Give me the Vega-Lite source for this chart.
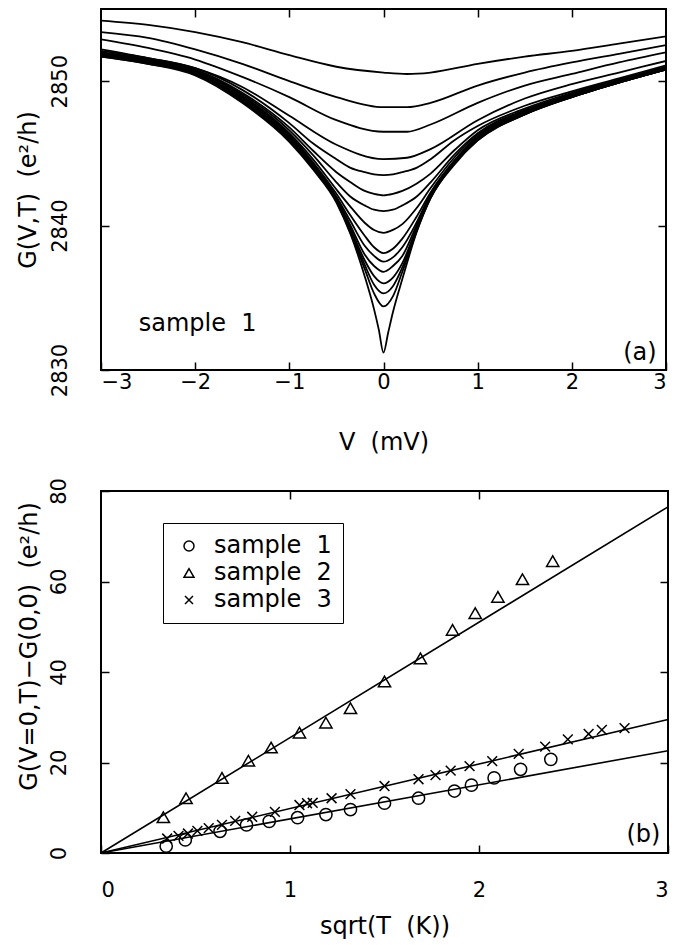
{
  "$schema": "https://vega.github.io/schema/vega-lite/v6.json",
  "padding": {"left": 15, "top": 7, "right": 10, "bottom": 5},
  "config": {
    "font": "DejaVu Sans",
    "view": {"stroke": "black", "strokeWidth": 2},
    "axis": {"domain": false, "grid": false, "tickColor": "black", "tickSize": -8, "tickWidth": 1.5, "labelColor": "black", "titleColor": "black", "labelFontSize": 21, "titleFontSize": 24, "labelFont": "DejaVu Sans", "titleFont": "DejaVu Sans", "titleFontWeight": "normal"},
    "concat": {"spacing": 21}
  },
  "datasets": {
    "curves": [
      {"c":1,"V":-3,"G":2854.2},{"c":1,"V":-2.5,"G":2853.9},{"c":1,"V":-2,"G":2853.4},{"c":1,"V":-1.5,"G":2852.7},{"c":1,"V":-1,"G":2851.8},{"c":1,"V":-0.5,"G":2851.0},{"c":1,"V":0,"G":2850.6},{"c":1,"V":0.25,"G":2850.5},{"c":1,"V":0.5,"G":2850.6},{"c":1,"V":1,"G":2851.2},{"c":1,"V":1.5,"G":2851.7},{"c":1,"V":2,"G":2852.1},{"c":1,"V":2.5,"G":2852.6},{"c":1,"V":3,"G":2853.1},
      {"c":2,"V":-3,"G":2853.4},{"c":2,"V":-2.5,"G":2853.0},{"c":2,"V":-2,"G":2852.2},{"c":2,"V":-1.5,"G":2851.2},{"c":2,"V":-1,"G":2850.0},{"c":2,"V":-0.5,"G":2848.9},{"c":2,"V":0,"G":2848.2},{"c":2,"V":0.25,"G":2848.2},{"c":2,"V":0.5,"G":2848.5},{"c":2,"V":1,"G":2849.7},{"c":2,"V":1.5,"G":2850.6},{"c":2,"V":2,"G":2851.3},{"c":2,"V":2.5,"G":2851.9},{"c":2,"V":3,"G":2852.5},
      {"c":3,"V":-3,"G":2852.9},{"c":3,"V":-2.5,"G":2852.3},{"c":3,"V":-2,"G":2851.5},{"c":3,"V":-1.5,"G":2850.3},{"c":3,"V":-1,"G":2848.9},{"c":3,"V":-0.5,"G":2847.3},{"c":3,"V":0,"G":2846.5},{"c":3,"V":0.25,"G":2846.5},{"c":3,"V":0.5,"G":2847.0},{"c":3,"V":1,"G":2848.5},{"c":3,"V":1.5,"G":2849.7},{"c":3,"V":2,"G":2850.5},{"c":3,"V":2.5,"G":2851.3},{"c":3,"V":3,"G":2852.0},
      {"c":4,"V":-3,"G":2852.2},{"c":4,"V":-2.5,"G":2851.6},{"c":4,"V":-2,"G":2850.9},{"c":4,"V":-1.5,"G":2849.6},{"c":4,"V":-1,"G":2847.6},{"c":4,"V":-0.5,"G":2845.6},{"c":4,"V":0,"G":2844.6},{"c":4,"V":0.25,"G":2844.7},{"c":4,"V":0.5,"G":2845.3},{"c":4,"V":1,"G":2847.3},{"c":4,"V":1.5,"G":2848.8},{"c":4,"V":2,"G":2849.8},{"c":4,"V":2.5,"G":2850.6},{"c":4,"V":3,"G":2851.4},
      {"c":5,"V":-3,"G":2852.1},{"c":5,"V":-2.5,"G":2851.6},{"c":5,"V":-2,"G":2850.9},{"c":5,"V":-1.5,"G":2849.4},{"c":5,"V":-1,"G":2847.1},{"c":5,"V":-0.75,"G":2845.7},{"c":5,"V":-0.5,"G":2844.6},{"c":5,"V":-0.35,"G":2844.0},{"c":5,"V":-0.2,"G":2843.7},{"c":5,"V":-0.1,"G":2843.55},{"c":5,"V":0,"G":2843.5},{"c":5,"V":0.1,"G":2843.55},{"c":5,"V":0.2,"G":2843.7},{"c":5,"V":0.35,"G":2844.0},{"c":5,"V":0.5,"G":2844.6},{"c":5,"V":0.75,"G":2845.9},{"c":5,"V":1,"G":2846.9},{"c":5,"V":1.5,"G":2848.3},{"c":5,"V":2,"G":2849.3},{"c":5,"V":2.5,"G":2850.2},{"c":5,"V":3,"G":2851.1},
      {"c":6,"V":-3,"G":2852.0},{"c":6,"V":-2.5,"G":2851.5},{"c":6,"V":-2,"G":2850.8},{"c":6,"V":-1.5,"G":2849.2},{"c":6,"V":-1,"G":2846.8},{"c":6,"V":-0.75,"G":2845.2},{"c":6,"V":-0.5,"G":2843.7},{"c":6,"V":-0.35,"G":2843.0},{"c":6,"V":-0.2,"G":2842.4},{"c":6,"V":-0.1,"G":2842.2},{"c":6,"V":0,"G":2842.1},{"c":6,"V":0.1,"G":2842.2},{"c":6,"V":0.2,"G":2842.4},{"c":6,"V":0.35,"G":2842.9},{"c":6,"V":0.5,"G":2843.6},{"c":6,"V":0.75,"G":2845.2},{"c":6,"V":1,"G":2846.6},{"c":6,"V":1.5,"G":2848.1},{"c":6,"V":2,"G":2849.2},{"c":6,"V":2.5,"G":2850.1},{"c":6,"V":3,"G":2851.0},
      {"c":7,"V":-3,"G":2852.0},{"c":7,"V":-2.5,"G":2851.5},{"c":7,"V":-2,"G":2850.7},{"c":7,"V":-1.5,"G":2849.1},{"c":7,"V":-1,"G":2846.6},{"c":7,"V":-0.75,"G":2844.9},{"c":7,"V":-0.5,"G":2843.0},{"c":7,"V":-0.35,"G":2842.0},{"c":7,"V":-0.2,"G":2841.4},{"c":7,"V":-0.1,"G":2841.1},{"c":7,"V":0,"G":2841.0},{"c":7,"V":0.1,"G":2841.1},{"c":7,"V":0.2,"G":2841.4},{"c":7,"V":0.35,"G":2842.0},{"c":7,"V":0.5,"G":2843.0},{"c":7,"V":0.75,"G":2844.9},{"c":7,"V":1,"G":2846.4},{"c":7,"V":1.5,"G":2848.0},{"c":7,"V":2,"G":2849.1},{"c":7,"V":2.5,"G":2850.1},{"c":7,"V":3,"G":2851.0},
      {"c":8,"V":-3,"G":2851.9},{"c":8,"V":-2.5,"G":2851.4},{"c":8,"V":-2,"G":2850.7},{"c":8,"V":-1.5,"G":2849.0},{"c":8,"V":-1,"G":2846.4},{"c":8,"V":-0.75,"G":2844.6},{"c":8,"V":-0.5,"G":2842.5},{"c":8,"V":-0.35,"G":2841.3},{"c":8,"V":-0.2,"G":2840.2},{"c":8,"V":-0.1,"G":2839.7},{"c":8,"V":0,"G":2839.5},{"c":8,"V":0.1,"G":2839.7},{"c":8,"V":0.2,"G":2840.1},{"c":8,"V":0.35,"G":2841.2},{"c":8,"V":0.5,"G":2842.6},{"c":8,"V":0.75,"G":2844.7},{"c":8,"V":1,"G":2846.3},{"c":8,"V":1.5,"G":2847.9},{"c":8,"V":2,"G":2849.1},{"c":8,"V":2.5,"G":2850.0},{"c":8,"V":3,"G":2850.9},
      {"c":9,"V":-3,"G":2851.9},{"c":9,"V":-2.5,"G":2851.4},{"c":9,"V":-2,"G":2850.6},{"c":9,"V":-1.5,"G":2848.9},{"c":9,"V":-1,"G":2846.3},{"c":9,"V":-0.75,"G":2844.4},{"c":9,"V":-0.5,"G":2842.2},{"c":9,"V":-0.35,"G":2840.7},{"c":9,"V":-0.2,"G":2839.3},{"c":9,"V":-0.1,"G":2838.5},{"c":9,"V":0,"G":2838.1},{"c":9,"V":0.1,"G":2838.4},{"c":9,"V":0.2,"G":2839.1},{"c":9,"V":0.35,"G":2840.6},{"c":9,"V":0.5,"G":2842.3},{"c":9,"V":0.75,"G":2844.5},{"c":9,"V":1,"G":2846.2},{"c":9,"V":1.5,"G":2847.9},{"c":9,"V":2,"G":2849.0},{"c":9,"V":2.5,"G":2850.0},{"c":9,"V":3,"G":2850.9},
      {"c":10,"V":-3,"G":2851.9},{"c":10,"V":-2.5,"G":2851.4},{"c":10,"V":-2,"G":2850.6},{"c":10,"V":-1.5,"G":2848.8},{"c":10,"V":-1,"G":2846.2},{"c":10,"V":-0.75,"G":2844.3},{"c":10,"V":-0.5,"G":2842.0},{"c":10,"V":-0.35,"G":2840.3},{"c":10,"V":-0.2,"G":2838.6},{"c":10,"V":-0.1,"G":2837.9},{"c":10,"V":0,"G":2837.5},{"c":10,"V":0.1,"G":2837.8},{"c":10,"V":0.2,"G":2838.5},{"c":10,"V":0.35,"G":2840.2},{"c":10,"V":0.5,"G":2842.2},{"c":10,"V":0.75,"G":2844.4},{"c":10,"V":1,"G":2846.1},{"c":10,"V":1.5,"G":2847.8},{"c":10,"V":2,"G":2849.0},{"c":10,"V":2.5,"G":2850.0},{"c":10,"V":3,"G":2850.9},
      {"c":11,"V":-3,"G":2851.8},{"c":11,"V":-2.5,"G":2851.3},{"c":11,"V":-2,"G":2850.6},{"c":11,"V":-1.5,"G":2848.8},{"c":11,"V":-1,"G":2846.1},{"c":11,"V":-0.75,"G":2844.2},{"c":11,"V":-0.5,"G":2841.9},{"c":11,"V":-0.35,"G":2840.0},{"c":11,"V":-0.2,"G":2838.0},{"c":11,"V":-0.1,"G":2837.2},{"c":11,"V":0,"G":2836.8},{"c":11,"V":0.1,"G":2837.2},{"c":11,"V":0.2,"G":2837.9},{"c":11,"V":0.35,"G":2840.0},{"c":11,"V":0.5,"G":2842.1},{"c":11,"V":0.75,"G":2844.4},{"c":11,"V":1,"G":2846.1},{"c":11,"V":1.5,"G":2847.8},{"c":11,"V":2,"G":2849.0},{"c":11,"V":2.5,"G":2850.0},{"c":11,"V":3,"G":2850.9},
      {"c":12,"V":-3,"G":2851.8},{"c":12,"V":-2.5,"G":2851.3},{"c":12,"V":-2,"G":2850.5},{"c":12,"V":-1.5,"G":2848.7},{"c":12,"V":-1,"G":2846.0},{"c":12,"V":-0.75,"G":2844.1},{"c":12,"V":-0.5,"G":2841.8},{"c":12,"V":-0.35,"G":2839.8},{"c":12,"V":-0.2,"G":2837.6},{"c":12,"V":-0.1,"G":2836.5},{"c":12,"V":0,"G":2836.0},{"c":12,"V":0.1,"G":2836.4},{"c":12,"V":0.2,"G":2837.4},{"c":12,"V":0.35,"G":2839.8},{"c":12,"V":0.5,"G":2842.0},{"c":12,"V":0.75,"G":2844.3},{"c":12,"V":1,"G":2846.0},{"c":12,"V":1.5,"G":2847.8},{"c":12,"V":2,"G":2848.9},{"c":12,"V":2.5,"G":2849.9},{"c":12,"V":3,"G":2850.8},
      {"c":13,"V":-3,"G":2851.8},{"c":13,"V":-2.5,"G":2851.3},{"c":13,"V":-2,"G":2850.5},{"c":13,"V":-1.5,"G":2848.7},{"c":13,"V":-1,"G":2846.0},{"c":13,"V":-0.75,"G":2844.1},{"c":13,"V":-0.5,"G":2841.7},{"c":13,"V":-0.35,"G":2839.6},{"c":13,"V":-0.2,"G":2837.3},{"c":13,"V":-0.1,"G":2835.9},{"c":13,"V":0,"G":2835.3},{"c":13,"V":0.1,"G":2835.8},{"c":13,"V":0.2,"G":2837.1},{"c":13,"V":0.35,"G":2839.7},{"c":13,"V":0.5,"G":2842.0},{"c":13,"V":0.75,"G":2844.3},{"c":13,"V":1,"G":2846.0},{"c":13,"V":1.5,"G":2847.7},{"c":13,"V":2,"G":2848.9},{"c":13,"V":2.5,"G":2849.9},{"c":13,"V":3,"G":2850.8},
      {"c":14,"V":-3,"G":2851.7},{"c":14,"V":-2.5,"G":2851.2},{"c":14,"V":-2,"G":2850.5},{"c":14,"V":-1.5,"G":2848.6},{"c":14,"V":-1,"G":2845.9},{"c":14,"V":-0.75,"G":2844.0},{"c":14,"V":-0.5,"G":2841.7},{"c":14,"V":-0.35,"G":2839.5},{"c":14,"V":-0.2,"G":2837.0},{"c":14,"V":-0.1,"G":2835.3},{"c":14,"V":0,"G":2834.4},{"c":14,"V":0.1,"G":2835.1},{"c":14,"V":0.2,"G":2836.8},{"c":14,"V":0.35,"G":2839.6},{"c":14,"V":0.5,"G":2841.9},{"c":14,"V":0.75,"G":2844.3},{"c":14,"V":1,"G":2845.9},{"c":14,"V":1.5,"G":2847.7},{"c":14,"V":2,"G":2848.9},{"c":14,"V":2.5,"G":2849.9},{"c":14,"V":3,"G":2850.8},
      {"c":15,"V":-3,"G":2851.7},{"c":15,"V":-2.5,"G":2851.2},{"c":15,"V":-2,"G":2850.4},{"c":15,"V":-1.5,"G":2848.5},{"c":15,"V":-1,"G":2845.8},{"c":15,"V":-0.75,"G":2843.9},{"c":15,"V":-0.5,"G":2841.6},{"c":15,"V":-0.35,"G":2839.4},{"c":15,"V":-0.2,"G":2836.5},{"c":15,"V":-0.1,"G":2834.2},{"c":15,"V":-0.05,"G":2832.8},{"c":15,"V":0,"G":2831.2},{"c":15,"V":0.05,"G":2832.6},{"c":15,"V":0.1,"G":2834.0},{"c":15,"V":0.2,"G":2836.3},{"c":15,"V":0.35,"G":2839.5},{"c":15,"V":0.5,"G":2841.9},{"c":15,"V":0.75,"G":2844.2},{"c":15,"V":1,"G":2845.9},{"c":15,"V":1.5,"G":2847.7},{"c":15,"V":2,"G":2848.9},{"c":15,"V":2.5,"G":2849.9},{"c":15,"V":3,"G":2850.8}
    ],
    "annA1": [{"x": -2.6, "y": 2833.2, "t": "sample \u00a01"}],
    "annA2": [{"x": 2.9, "y": 2831.2, "t": "(a)"}],
    "annB": [{"x": 2.96, "y": 4.0, "t": "(b)"}],
    "fits": [
      {"sample": "sample \u00a01", "x": 0, "y": 0}, {"sample": "sample \u00a01", "x": 3, "y": 22.6},
      {"sample": "sample \u00a02", "x": 0, "y": 0}, {"sample": "sample \u00a02", "x": 3, "y": 76.5},
      {"sample": "sample \u00a03", "x": 0, "y": 0}, {"sample": "sample \u00a03", "x": 3, "y": 29.5}
    ],
    "points": [
      {"sample": "sample \u00a01", "x": 0.345, "y": 1.5}, {"sample": "sample \u00a01", "x": 0.446, "y": 2.9}, {"sample": "sample \u00a01", "x": 0.63, "y": 4.8}, {"sample": "sample \u00a01", "x": 0.77, "y": 6.2}, {"sample": "sample \u00a01", "x": 0.89, "y": 7.0}, {"sample": "sample \u00a01", "x": 1.04, "y": 7.8}, {"sample": "sample \u00a01", "x": 1.19, "y": 8.5}, {"sample": "sample \u00a01", "x": 1.32, "y": 9.6}, {"sample": "sample \u00a01", "x": 1.50, "y": 11.0}, {"sample": "sample \u00a01", "x": 1.68, "y": 12.1}, {"sample": "sample \u00a01", "x": 1.87, "y": 13.7}, {"sample": "sample \u00a01", "x": 1.96, "y": 15.0}, {"sample": "sample \u00a01", "x": 2.08, "y": 16.6}, {"sample": "sample \u00a01", "x": 2.22, "y": 18.5}, {"sample": "sample \u00a01", "x": 2.38, "y": 20.7},
      {"sample": "sample \u00a02", "x": 0.33, "y": 7.9}, {"sample": "sample \u00a02", "x": 0.45, "y": 12.1}, {"sample": "sample \u00a02", "x": 0.64, "y": 16.6}, {"sample": "sample \u00a02", "x": 0.78, "y": 20.4}, {"sample": "sample \u00a02", "x": 0.90, "y": 23.3}, {"sample": "sample \u00a02", "x": 1.05, "y": 26.6}, {"sample": "sample \u00a02", "x": 1.19, "y": 28.8}, {"sample": "sample \u00a02", "x": 1.32, "y": 32.0}, {"sample": "sample \u00a02", "x": 1.50, "y": 37.9}, {"sample": "sample \u00a02", "x": 1.69, "y": 43.0}, {"sample": "sample \u00a02", "x": 1.86, "y": 49.3}, {"sample": "sample \u00a02", "x": 1.98, "y": 53.0}, {"sample": "sample \u00a02", "x": 2.10, "y": 56.6}, {"sample": "sample \u00a02", "x": 2.23, "y": 60.5}, {"sample": "sample \u00a02", "x": 2.39, "y": 64.5},
      {"sample": "sample \u00a03", "x": 0.35, "y": 3.2}, {"sample": "sample \u00a03", "x": 0.41, "y": 3.8}, {"sample": "sample \u00a03", "x": 0.46, "y": 4.3}, {"sample": "sample \u00a03", "x": 0.51, "y": 4.9}, {"sample": "sample \u00a03", "x": 0.57, "y": 5.5}, {"sample": "sample \u00a03", "x": 0.64, "y": 6.2}, {"sample": "sample \u00a03", "x": 0.71, "y": 7.1}, {"sample": "sample \u00a03", "x": 0.80, "y": 8.0}, {"sample": "sample \u00a03", "x": 0.92, "y": 9.1}, {"sample": "sample \u00a03", "x": 1.05, "y": 10.6}, {"sample": "sample \u00a03", "x": 1.09, "y": 11.0}, {"sample": "sample \u00a03", "x": 1.12, "y": 11.1}, {"sample": "sample \u00a03", "x": 1.22, "y": 12.1}, {"sample": "sample \u00a03", "x": 1.32, "y": 13.0}, {"sample": "sample \u00a03", "x": 1.50, "y": 14.8}, {"sample": "sample \u00a03", "x": 1.68, "y": 16.3}, {"sample": "sample \u00a03", "x": 1.77, "y": 17.2}, {"sample": "sample \u00a03", "x": 1.85, "y": 18.2}, {"sample": "sample \u00a03", "x": 1.95, "y": 19.2}, {"sample": "sample \u00a03", "x": 2.07, "y": 20.3}, {"sample": "sample \u00a03", "x": 2.21, "y": 21.9}, {"sample": "sample \u00a03", "x": 2.35, "y": 23.5}, {"sample": "sample \u00a03", "x": 2.47, "y": 25.1}, {"sample": "sample \u00a03", "x": 2.58, "y": 26.3}, {"sample": "sample \u00a03", "x": 2.65, "y": 27.2}, {"sample": "sample \u00a03", "x": 2.77, "y": 27.6}
    ]
  },
  "vconcat": [
    {
      "width": 565,
      "height": 361,
      "layer": [
        {
          "data": {"name": "curves"},
          "mark": {"type": "line", "color": "black", "strokeWidth": 1.8, "interpolate": "monotone", "clip": true},
          "encoding": {
            "x": {"field": "V", "type": "quantitative", "scale": {"domain": [-3, 3], "nice": false, "zero": false},
              "axis": {"orient": "bottom", "values": [-3, -2, -1, 0, 1, 2, 3], "title": "V \u00a0(mV)", "labelPadding": 9, "titlePadding": 38}},
            "y": {"field": "G", "type": "quantitative", "scale": {"domain": [2830, 2855], "nice": false, "zero": false},
              "axis": {"orient": "left", "values": [2830, 2840, 2850], "format": "d", "title": "G(V,T) \u00a0(e\u00b2/h)", "titleX": -61, "labelAngle": -90, "labelAlign": "center", "labelBaseline": "alphabetic", "labelPadding": 43}},
            "detail": {"field": "c", "type": "nominal"}
          }
        },
        {
          "data": {"name": "annA1"},
          "mark": {"type": "text", "align": "left", "baseline": "middle", "fontSize": 24, "color": "black"},
          "encoding": {
            "x": {"field": "x", "type": "quantitative", "axis": {"orient": "top", "values": [-2, -1, 0, 1, 2], "labels": false, "title": null}},
            "y": {"field": "y", "type": "quantitative", "axis": {"orient": "right", "values": [2840, 2850], "labels": false, "title": null}},
            "text": {"field": "t"}
          }
        },
        {
          "data": {"name": "annA2"},
          "mark": {"type": "text", "align": "right", "baseline": "middle", "fontSize": 24, "color": "black"},
          "encoding": {
            "x": {"field": "x", "type": "quantitative", "axis": null},
            "y": {"field": "y", "type": "quantitative", "axis": null},
            "text": {"field": "t"}
          }
        }
      ]
    },
    {
      "width": 567,
      "height": 362,
      "layer": [
        {
          "data": {"name": "fits"},
          "mark": {"type": "line", "color": "black", "strokeWidth": 1.6},
          "encoding": {
            "x": {"field": "x", "type": "quantitative", "scale": {"domain": [0, 3], "nice": false},
              "axis": {"orient": "bottom", "values": [0, 1, 2, 3], "title": "sqrt(T \u00a0(K))", "labelPadding": 34, "titlePadding": 14}},
            "y": {"field": "y", "type": "quantitative", "scale": {"domain": [0, 80], "nice": false},
              "axis": {"orient": "left", "values": [0, 20, 40, 60, 80], "title": "G(V=0,T)\u2212G(0,0) \u00a0(e\u00b2/h)", "titleX": -60, "titleY": 155, "labelAngle": -90, "labelAlign": "center", "labelBaseline": "alphabetic", "labelPadding": 44}},
            "detail": {"field": "sample", "type": "nominal"}
          }
        },
        {
          "data": {"name": "points"},
          "mark": {"type": "point", "filled": false, "color": "black", "strokeWidth": 1.5, "size": 150, "opacity": 1},
          "encoding": {
            "x": {"field": "x", "type": "quantitative", "axis": null},
            "y": {"field": "y", "type": "quantitative", "axis": null},
            "shape": {"field": "sample", "type": "nominal",
              "scale": {"domain": ["sample \u00a01", "sample \u00a02", "sample \u00a03"], "range": ["circle", "triangle-up", "M-0.8,-0.8L0.8,0.8M-0.8,0.8L0.8,-0.8"]},
              "legend": {"orient": "none", "legendX": 62, "legendY": 514, "title": null, "strokeColor": "black", "fillColor": "white", "padding": 11, "labelFontSize": 24, "labelColor": "black", "labelFont": "DejaVu Sans", "labelExpr": "datum.label + '\u00a0'", "symbolSize": 100, "symbolStrokeColor": "black", "symbolStrokeWidth": 1.5, "symbolFillColor": "transparent", "symbolOffset": 3, "labelOffset": 13, "rowPadding": 3, "labelLimit": 300}}
          }
        },
        {
          "data": {"name": "annB"},
          "mark": {"type": "text", "align": "right", "baseline": "middle", "fontSize": 24, "color": "black"},
          "encoding": {
            "x": {"field": "x", "type": "quantitative", "axis": {"orient": "top", "values": [1, 2], "labels": false, "title": null}},
            "y": {"field": "y", "type": "quantitative", "axis": {"orient": "right", "values": [20, 40, 60], "labels": false, "title": null}},
            "text": {"field": "t"}
          }
        }
      ]
    }
  ]
}
